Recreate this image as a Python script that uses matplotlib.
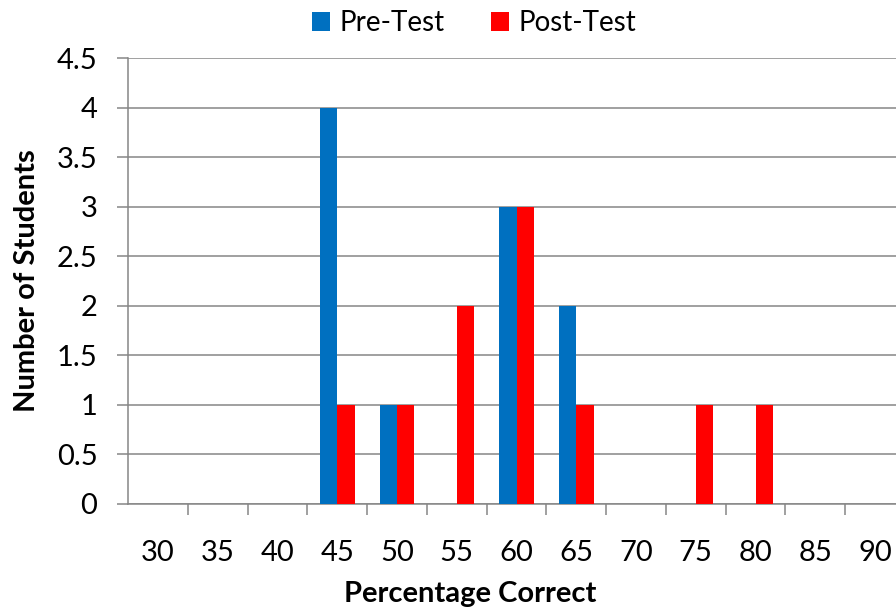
import matplotlib
matplotlib.use("Agg")
import matplotlib.pyplot as plt
import numpy as np

categories = ["30", "35", "40", "45", "50", "55", "60", "65", "70", "75", "80", "85", "90"]
pre_test = [0, 0, 0, 4, 1, 0, 3, 2, 0, 0, 0, 0, 0]
post_test = [0, 0, 0, 1, 1, 2, 3, 1, 0, 1, 1, 0, 0]
series_names = ["Pre-Test", "Post-Test"]
y_ticks = [0, 0.5, 1, 1.5, 2, 2.5, 3, 3.5, 4, 4.5]
y_tick_labels = ["0", "0.5", "1", "1.5", "2", "2.5", "3", "3.5", "4", "4.5"]

plt.rcParams['font.family'] = ['Lato', 'DejaVu Sans']

W, H = 896, 607
fig = plt.figure(figsize=(W / 100, H / 100), dpi=100)
left, right, top, bottom = 128, 905, 58, 504
ax = fig.add_axes([left / W, 1 - bottom / H, (right - left) / W, (bottom - top) / H])

x = np.arange(len(categories))
bw = 0.29
gray = "#868686"
ax.bar(x - bw / 2, pre_test, bw, color="#0070C0", label=series_names[0], zorder=3)
ax.bar(x + bw / 2, post_test, bw, color="#FF0000", label=series_names[1], zorder=3)

ax.set_xlim(-0.5, len(categories) - 0.5)
ax.set_ylim(0, 4.5)
ax.set_yticks(y_ticks)
ax.set_yticklabels(y_tick_labels)
ax.yaxis.grid(True, color=gray, linewidth=1.1, zorder=0)
ax.set_axisbelow(True)

ax.set_xticks(x)
ax.set_xticklabels(categories)
ax.set_xticks(np.arange(len(categories)) + 0.5, minor=True)
ax.tick_params(axis='x', which='major', length=0, pad=26, labelsize=21, colors='black')
ax.tick_params(axis='x', which='minor', length=8, width=1.1, color=gray)
ax.tick_params(axis='y', length=8, width=1.1, color=gray, pad=14, labelsize=21, labelcolor='black')

for s in ["top", "right"]:
    ax.spines[s].set_visible(False)
for s in ["left", "bottom"]:
    ax.spines[s].set_color(gray)
    ax.spines[s].set_linewidth(1.1)

fig.text(27 / W, 1 - 281 / H, "Number of Students", rotation=90, ha="center", va="center",
         fontsize=21, fontweight="bold")
fig.text(470 / W, 1 - 594 / H, "Percentage Correct", ha="center", va="center",
         fontsize=21, fontweight="bold")

leg = fig.legend(loc="center", bbox_to_anchor=(474 / W, 1 - 23 / H), ncol=2, frameon=False,
                 fontsize=20, handlelength=0.65, handleheight=0.65, handletextpad=0.35,
                 columnspacing=1.65)

fig.savefig("out.png", dpi=100)
